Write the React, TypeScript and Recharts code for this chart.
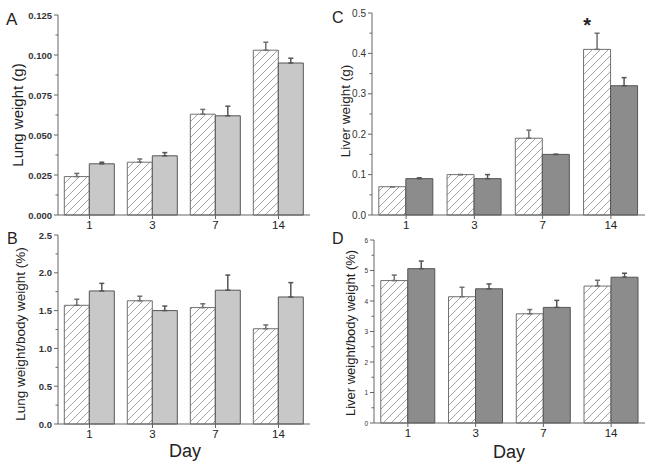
import React from "react";
import { BarChart, Bar, XAxis, YAxis, ErrorBar, LabelList } from "recharts";

const days = ["1", "3", "7", "14"];

// A: lung weight (g)
const lungHatch = [0.024, 0.033, 0.063, 0.103];
const lungHatchErr = [0.002, 0.002, 0.003, 0.005];
const lungSolid = [0.032, 0.037, 0.062, 0.095];
const lungSolidErr = [0.001, 0.002, 0.006, 0.003];
const lungTicks = [0, 0.025, 0.05, 0.075, 0.1, 0.125];
const lungMinor = [0.0125, 0.0375, 0.0625, 0.0875, 0.1125];

// B: lung weight / body weight (%)
const lungRatioHatch = [1.57, 1.63, 1.54, 1.26];
const lungRatioHatchErr = [0.08, 0.06, 0.05, 0.05];
const lungRatioSolid = [1.76, 1.5, 1.77, 1.68];
const lungRatioSolidErr = [0.1, 0.06, 0.2, 0.19];
const lungRatioTicks = [0, 0.5, 1, 1.5, 2, 2.5];
const lungRatioMinor = [0.25, 0.75, 1.25, 1.75, 2.25];

// C: liver weight (g)
const liverHatch = [0.07, 0.1, 0.19, 0.41];
const liverHatchErr = [0, 0, 0.02, 0.04];
const liverSolid = [0.09, 0.09, 0.15, 0.32];
const liverSolidErr = [0.002, 0.01, 0, 0.02];
const liverTicks = [0, 0.1, 0.2, 0.3, 0.4, 0.5];
const liverMinor = [0.05, 0.15, 0.25, 0.35, 0.45];

// D: liver weight / body weight (%)
const liverRatioHatch = [4.67, 4.14, 3.58, 4.49];
const liverRatioHatchErr = [0.18, 0.31, 0.14, 0.19];
const liverRatioSolid = [5.06, 4.4, 3.79, 4.78];
const liverRatioSolidErr = [0.25, 0.16, 0.23, 0.13];
const liverRatioTicks = [0, 1, 2, 3, 4, 5, 6];
const liverRatioMinor = [0.5, 1.5, 2.5, 3.5, 4.5, 5.5];

const AXIS = "#666";
const TEXT = "#222";

type PanelProps = {
  id: string;
  left: number;
  top: number;
  width: number;
  height: number;
  marginTop: number;
  marginRight: number;
  yAxisWidth: number;
  xAxisHeight: number;
  hatch: number[];
  hatchErr: number[];
  solid: number[];
  solidErr: number[];
  majors: number[];
  minors: number[];
  digits: number;
  tickFont: number;
  tickWeight: number;
  solidFill: string;
  starIndex?: number;
};

const Panel = (p: PanelProps) => {
  const data = days.map((d, i) => ({
    day: d,
    hatch: p.hatch[i],
    hatchErr: [0, p.hatchErr[i]],
    solid: p.solid[i],
    solidErr: [0, p.solidErr[i]],
  }));
  const ticks = [...p.majors, ...p.minors].sort((a, b) => a - b);
  const max = p.majors[p.majors.length - 1];

  const renderTick = (props: any) => {
    const { x, y, payload } = props;
    const major = p.majors.some((m) => Math.abs(m - payload.value) < 1e-9);
    return (
      <g>
        <line x1={x - (major ? 4 : 2.5)} x2={x} y1={y} y2={y} stroke={AXIS} />
        {major && (
          <text
            x={x - 6}
            y={y}
            textAnchor="end"
            dominantBaseline="central"
            fontSize={p.tickFont}
            fontWeight={p.tickWeight}
            fill="#333"
          >
            {payload.value.toFixed(p.digits)}
          </text>
        )}
      </g>
    );
  };

  const renderStar = (props: any) => {
    const { x, y, width, index } = props;
    if (index !== p.starIndex) return null;
    return (
      <text
        x={x + width / 2 - 10}
        y={y - 17}
        textAnchor="middle"
        fontSize={20}
        fontWeight="bold"
        fill={TEXT}
      >
        *
      </text>
    );
  };

  return (
    <div style={{ position: "absolute", left: p.left, top: p.top }}>
      <BarChart
        width={p.width}
        height={p.height}
        data={data}
        margin={{ top: p.marginTop, right: p.marginRight, bottom: 0, left: 0 }}
        barGap={0}
        barCategoryGap="10%"
      >
        <XAxis
          dataKey="day"
          height={p.xAxisHeight}
          stroke={AXIS}
          tickSize={4}
          tickMargin={2}
          tick={{ fontSize: 11.5, fill: TEXT }}
        />
        <YAxis
          type="number"
          width={p.yAxisWidth}
          domain={[0, max]}
          ticks={ticks}
          interval={0}
          tickSize={0}
          tickMargin={0}
          tick={renderTick}
          stroke={AXIS}
        />
        <Bar
          dataKey="hatch"
          fill={`url(#${p.id}-hatch)`}
          stroke="#707070"
          isAnimationActive={false}
        >
          <ErrorBar dataKey="hatchErr" direction="y" width={2.5} stroke="#707070" />
          {p.starIndex !== undefined && (
            <LabelList dataKey="hatch" content={renderStar} />
          )}
        </Bar>
        <Bar
          dataKey="solid"
          fill={p.solidFill}
          stroke="#555"
          isAnimationActive={false}
        >
          <ErrorBar dataKey="solidErr" direction="y" width={2.5} stroke="#555" />
        </Bar>
      </BarChart>
    </div>
  );
};

const Hatch = ({ id }: { id: string }) => (
  <pattern id={id} patternUnits="userSpaceOnUse" width={8} height={8}>
    <rect width={8} height={8} fill="#fff" />
    <path d="M0,8 L8,0 M-2,2 L2,-2 M6,10 L10,6" stroke="#8a8a8a" strokeWidth={0.8} />
  </pattern>
);

const App = () => {
  return (
    <div
      style={{
        position: "absolute",
        left: 0,
        top: 0,
        width: 649,
        height: 469,
        background: "#fff",
        fontFamily: "'Liberation Sans', Arial, sans-serif",
        overflow: "hidden",
      }}
    >
      <svg width={0} height={0} style={{ position: "absolute" }}>
        <defs>
          <Hatch id="a-hatch" />
          <Hatch id="b-hatch" />
          <Hatch id="c-hatch" />
          <Hatch id="d-hatch" />
        </defs>
      </svg>

      <Panel
        id="a"
        left={0}
        top={0}
        width={330}
        height={240}
        marginTop={15}
        marginRight={20}
        yAxisWidth={58}
        xAxisHeight={25}
        hatch={lungHatch}
        hatchErr={lungHatchErr}
        solid={lungSolid}
        solidErr={lungSolidErr}
        majors={lungTicks}
        minors={lungMinor}
        digits={3}
        tickFont={9.5}
        tickWeight={700}
        solidFill="#c8c8c8"
      />
      <Panel
        id="b"
        left={0}
        top={220}
        width={330}
        height={249}
        marginTop={15}
        marginRight={20}
        yAxisWidth={58}
        xAxisHeight={45}
        hatch={lungRatioHatch}
        hatchErr={lungRatioHatchErr}
        solid={lungRatioSolid}
        solidErr={lungRatioSolidErr}
        majors={lungRatioTicks}
        minors={lungRatioMinor}
        digits={1}
        tickFont={9.5}
        tickWeight={700}
        solidFill="#c8c8c8"
      />
      <Panel
        id="c"
        left={330}
        top={0}
        width={319}
        height={240}
        marginTop={13}
        marginRight={4}
        yAxisWidth={42}
        xAxisHeight={25}
        hatch={liverHatch}
        hatchErr={liverHatchErr}
        solid={liverSolid}
        solidErr={liverSolidErr}
        majors={liverTicks}
        minors={liverMinor}
        digits={1}
        tickFont={10}
        tickWeight={400}
        solidFill="#8c8c8c"
        starIndex={3}
      />
      <Panel
        id="d"
        left={330}
        top={220}
        width={319}
        height={249}
        marginTop={20}
        marginRight={4}
        yAxisWidth={44}
        xAxisHeight={46}
        hatch={liverRatioHatch}
        hatchErr={liverRatioHatchErr}
        solid={liverRatioSolid}
        solidErr={liverRatioSolidErr}
        majors={liverRatioTicks}
        minors={liverRatioMinor}
        digits={0}
        tickFont={6.5}
        tickWeight={400}
        solidFill="#8c8c8c"
      />

      <svg
        width={649}
        height={469}
        style={{ position: "absolute", left: 0, top: 0, pointerEvents: "none" }}
      >
        <g fill={TEXT}>
          <text x={6} y={25} fontSize={17}>A</text>
          <text x={7} y={244} fontSize={16}>B</text>
          <text x={332} y={23} fontSize={16}>C</text>
          <text x={332} y={244} fontSize={16}>D</text>

          <text
            transform="translate(17,115) rotate(-90)"
            textAnchor="middle"
            dominantBaseline="central"
            fontSize={15}
          >
            Lung weight (g)
          </text>
          <text
            transform="translate(20,334) rotate(-90)"
            textAnchor="middle"
            dominantBaseline="central"
            fontSize={13.5}
          >
            Lung weight/body weight (%)
          </text>
          <text
            transform="translate(345,111) rotate(-90)"
            textAnchor="middle"
            dominantBaseline="central"
            fontSize={13.5}
          >
            Liver weight (g)
          </text>
          <text
            transform="translate(350,333) rotate(-90)"
            textAnchor="middle"
            dominantBaseline="central"
            fontSize={13}
          >
            Liver weight/body weight (%)
          </text>

          <text x={185} y={451} textAnchor="middle" dominantBaseline="central" fontSize={18}>
            Day
          </text>
          <text x={509} y={452} textAnchor="middle" dominantBaseline="central" fontSize={18}>
            Day
          </text>
        </g>
      </svg>
    </div>
  );
};

export default App;
